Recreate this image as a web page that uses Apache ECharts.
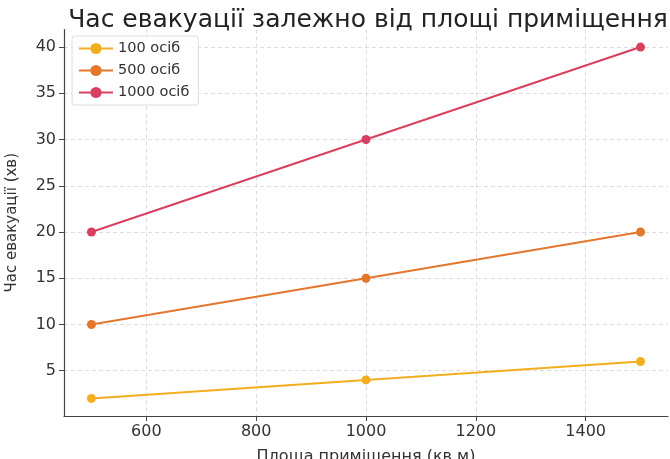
<!DOCTYPE html>
<html>
<head>
<meta charset="utf-8">
<script src="https://cdn.jsdelivr.net/npm/echarts@6/dist/echarts.min.js"></script>
<style>
  html, body { margin: 0; padding: 0; background: #fff; }
  #chart { width: 670px; height: 459px; }
</style>
</head>
<body>
<div id="chart"></div>
<script>
// Room area (sq. m) on x, evacuation time (min) on y
const areas = [500, 1000, 1500];
const seriesNames = ['100 осіб', '500 осіб', '1000 осіб'];
const time100 = [2, 4, 6];
const time500 = [10, 15, 20];
const time1000 = [20, 30, 40];
const xTicks = [600, 800, 1000, 1200, 1400];
const yTicks = [5, 10, 15, 20, 25, 30, 35, 40];
const colors = ['#f2ae1f', '#e4772d', '#d9405f'];

const font = 'DejaVu Sans';
const textColor = '#333';

function makeSeries(name, values, color) {
  return {
    name: name,
    type: 'line',
    data: areas.map((a, i) => [a, values[i]]),
    symbol: 'circle',
    symbolSize: 9,
    lineStyle: { width: 2, color: color },
    itemStyle: { color: color },
    emphasis: { disabled: true },
    animation: false
  };
}

const chart = echarts.init(document.getElementById('chart'), null, { renderer: 'canvas' });
chart.setOption({
  animation: false,
  title: {
    text: 'Час евакуації залежно від площі приміщення',
    left: 363,
    textAlign: 'center',
    top: 3,
    textStyle: { fontFamily: font, fontSize: 25, fontWeight: 'normal', color: '#222' }
  },
  grid: { left: 64, right: 2, top: 29.5, bottom: 43, outerBoundsMode: 'none' },
  legend: {
    data: seriesNames,
    orient: 'vertical',
    left: 72,
    top: 36,
    padding: [5, 9, 5, 6],
    itemGap: 7,
    itemWidth: 34,
    itemHeight: 14,
    backgroundColor: 'rgba(255,255,255,0.85)',
    borderColor: '#dcdcdc',
    borderWidth: 1,
    borderRadius: 3,
    textStyle: { fontFamily: font, fontSize: 14.5, color: textColor }
  },
  xAxis: {
    type: 'value',
    min: 450,
    max: 1550,
    name: 'Площа приміщення (кв.м)',
    nameLocation: 'middle',
    nameGap: 33,
    nameTextStyle: { fontFamily: font, fontSize: 16, color: textColor },
    axisLine: { show: true, lineStyle: { color: '#444', width: 1.2 } },
    axisTick: { show: true, length: 5, customValues: xTicks, lineStyle: { color: '#444' } },
    axisLabel: {
      customValues: xTicks,
      formatter: v => String(v),
      fontFamily: font, fontSize: 16, color: textColor, margin: 8
    },
    splitLine: { show: true, lineStyle: { color: '#d4d4d4', type: [4, 3], width: 0.8 } }
  },
  yAxis: {
    type: 'value',
    min: 0.1,
    max: 41.9,
    name: 'Час евакуації (хв)',
    nameLocation: 'middle',
    nameGap: 44,
    nameTextStyle: { fontFamily: font, fontSize: 15, color: textColor },
    axisLine: { show: true, lineStyle: { color: '#444', width: 1.2 } },
    axisTick: { show: true, length: 5, customValues: yTicks, lineStyle: { color: '#444' } },
    axisLabel: {
      customValues: yTicks,
      formatter: v => String(v),
      fontFamily: font, fontSize: 16, color: textColor, margin: 8
    },
    splitLine: { show: true, lineStyle: { color: '#d4d4d4', type: [4, 3], width: 0.8 } }
  },
  series: [
    makeSeries(seriesNames[0], time100, colors[0]),
    makeSeries(seriesNames[1], time500, colors[1]),
    makeSeries(seriesNames[2], time1000, colors[2])
  ]
});
</script>
</body>
</html>
